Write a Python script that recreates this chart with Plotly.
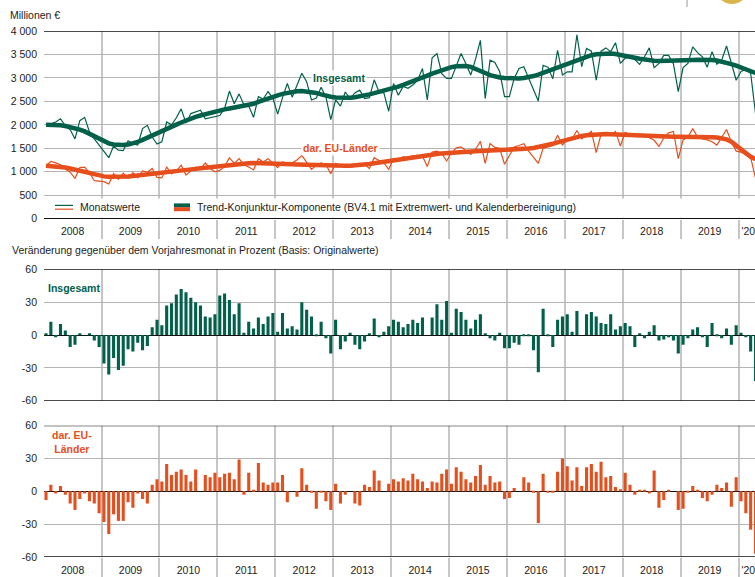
import plotly.graph_objects as go

# ---------------- data (monthly, Jan 2008 .. Apr 2020) ----------------
year_labels = ["2008", "2009", "2010", "2011", "2012", "2013", "2014",
               "2015", "2016", "2017", "2018", "2019", "'20"]

gesamt = [
    2000, 2020, 2060, 2130, 1980, 1900, 1700, 2090, 2160, 1850, 1700, 1570,
    1430, 1300, 1550, 1460, 1450, 1660, 1600, 1570, 1920, 1990, 1740, 1590,
    1640, 2060, 2000, 2150, 2340, 2040, 2240, 2270, 2310, 2130, 2150, 2180,
    2200, 2350, 2720, 2450, 2660, 2430, 2400, 2160, 2600, 2550, 2710, 2570,
    2230, 2580, 2880, 2590, 2850, 3100, 2920, 2530, 2570, 2800, 2590, 2110,
    2530, 2400, 2700, 2560, 2680, 2740, 2560, 2580, 2960, 2700, 2680, 2290,
    2880, 2630, 2820, 2780, 2850, 2950, 3200, 2530, 3430, 3520, 3090, 2990,
    2990, 3250, 3520, 3300, 3060, 3400, 3800, 2560, 3380, 3330, 3130, 2600,
    2600, 2990, 3200, 3240, 2990, 2750, 2510, 3270, 3230, 2980, 3590, 3060,
    3130, 3130, 3920, 3240, 3630, 3570, 2950, 3570, 3640, 3560, 3750, 3310,
    3420, 3440, 3390, 3290, 3450, 3640, 3220, 3310, 3480, 3480, 3300, 2710,
    3220, 3310, 3660, 3540, 3450, 3230, 3560, 3290, 3380, 3680, 3340, 2950,
    3140, 3180, 3100, 2250,
]

eu = [
    1130, 1220, 1190, 1150, 1060, 990, 860, 1090, 1100, 980, 810, 800,
    790, 740, 960, 840, 970, 860, 980, 870, 1020, 990, 1070, 880,
    870, 1100, 960, 1010, 1140, 930, 1020, 1100, 1060, 1190, 1070, 1000,
    1030, 1110, 1300, 1180, 1280, 1150, 1100, 1040, 1280, 1210, 1280, 1180,
    1090, 1210, 1180, 1190, 1250, 1350, 1200, 1050, 1140, 1190, 1150, 960,
    1180, 1130, 1150, 1140, 1120, 1180, 1160, 1070, 1300, 1240, 1190, 1050,
    1280, 1270, 1320, 1300, 1340, 1350, 1330, 1110, 1420, 1440, 1390, 1230,
    1400, 1510, 1530, 1450, 1370, 1480, 1650, 1180, 1600, 1520, 1500, 1160,
    1350, 1530, 1560, 1600, 1440, 1300, 1180, 1500, 1530, 1560, 1780, 1570,
    1680, 1700, 1880, 1700, 1780, 1860, 1410, 1800, 1780, 1780, 1860, 1550,
    1840, 1790, 1810, 1760, 1780, 1720, 1670, 1540, 1720, 1830, 1860, 1280,
    1680, 1740, 1920, 1740, 1700, 1680, 1640, 1570, 1740, 1900, 1640, 1440,
    1420, 1360, 1300, 870,
]

gesamt_trend = [
    2000, 2000, 1995, 1990, 1975, 1955, 1930, 1900, 1860, 1810, 1750, 1695,
    1645, 1605, 1580, 1570, 1570, 1580, 1600, 1635, 1680, 1730, 1780, 1830,
    1880, 1925, 1965, 2005, 2050, 2095, 2135, 2170, 2200, 2230, 2255, 2280,
    2305, 2330, 2350, 2370, 2385, 2400, 2420, 2450, 2490, 2530, 2565, 2600,
    2630, 2660, 2685, 2705, 2715, 2720, 2712, 2700, 2680, 2650, 2620, 2600,
    2585, 2578, 2575, 2580, 2590, 2605, 2625, 2650, 2675, 2700, 2725, 2750,
    2780, 2815, 2850, 2885, 2925, 2965, 3005, 3050, 3090, 3130, 3165, 3200,
    3230, 3250, 3260, 3255, 3235, 3200, 3155, 3105, 3060, 3030, 3010, 2998,
    2990, 2988, 2990, 3000, 3015, 3040, 3070, 3110, 3150, 3190, 3230, 3270,
    3310, 3350, 3390, 3425, 3460, 3485, 3505, 3515, 3520, 3518, 3510, 3495,
    3475, 3450, 3430, 3410, 3390, 3375, 3365, 3360, 3360, 3360, 3362, 3366,
    3370, 3375, 3380, 3385, 3388, 3388, 3382, 3370, 3350, 3325, 3295, 3260,
    3225, 3185, 3145, 3105,
]

eu_trend = [
    1130, 1125, 1115, 1105, 1090, 1070, 1045, 1015, 985, 958, 935, 915,
    902, 895, 892, 892, 895, 900, 908, 918, 928, 940, 952, 965,
    978, 990, 1002, 1014, 1026, 1038, 1050, 1062, 1075, 1088, 1100, 1112,
    1125, 1138, 1150, 1160, 1170, 1178, 1183, 1185, 1185, 1183, 1180, 1177,
    1174, 1170, 1166, 1162, 1157, 1152, 1147, 1142, 1137, 1133, 1130, 1128,
    1127, 1127, 1128, 1130, 1135, 1142, 1152, 1165, 1180, 1197, 1213, 1228,
    1242, 1255, 1267, 1280, 1295, 1312, 1330, 1348, 1365, 1380, 1392, 1402,
    1410, 1417, 1423, 1428, 1432, 1436, 1440, 1443, 1446, 1449, 1452, 1455,
    1460, 1466, 1474, 1484, 1495, 1508, 1524, 1544, 1568, 1596, 1628, 1660,
    1690, 1718, 1743, 1764, 1780, 1792, 1800, 1804, 1805, 1802, 1797, 1790,
    1782, 1775, 1768, 1762, 1757, 1753, 1750, 1748, 1747, 1747, 1748, 1749,
    1750, 1750, 1749, 1747, 1744, 1740, 1735, 1728, 1715, 1690, 1640, 1560,
    1450, 1380, 1320, 1270,
]

gesamt_yoy = [
    1, 12, -2, 10, 4, -11, -9, 1, 0, 1, -5, -11,
    -26, -36, -21, -32, -28, -13, -15, -7, -14, -10, 7, 14,
    9, 27, 29, 37, 42, 39, 34, 30, 27, 17, 16, 19,
    36, 38, 32, 19, 29, 2, 12, 6, 16, 10, 17, 20,
    3, 20, 6, 8, 5, 30, 23, 17, -1, 12, -3, -17,
    14, -13, -6, 2, -9, -13, -6, 1, 15, -2, 3, 8,
    14, 12, 7, 10, 14, 11, 16, 0, 16, 28, 14, 31,
    2, 24, 21, 14, 6, 14, 19, 1, -3, -5, 2, -12,
    -12, -7, -9, -1, -1, -14, -34, 24, -1, -11, 14, 17,
    19, 3, 22, 0, 19, 21, 17, 11, 10, 19, 5, 8,
    11, 8, -11, 1, -3, 3, 9, -5, -4, -2, -5, -17,
    -9, -3, 5, 7, -2, -11, 11, -1, -3, 6, -9, 9,
    2, -2, -15, -42,
]

eu_yoy = [
    -8, 6, -2, 5, -3, -11, -17, -7, -2, -9, -11, -20,
    -28, -39, -21, -27, -27, -10, -15, -2, -7, -11, 6, 11,
    9, 25, 15, 18, 20, 15, 9, 20, 0, 15, 13, 17,
    13, 16, 17, 11, 29, -3, 17, 1, 26, 8, 6, 8,
    8, 15, -10, 0, -5, 21, 6, -1, -16, -1, -9, -17,
    7, -11, -3, 0, -11, -13, 6, 4, 19, 10, 0, 7,
    11, 9, 12, 10, 16, 11, 9, 3, 9, 8, 16, 20,
    7, 22, 18, 11, 8, 14, 24, 6, 14, 8, 9, -7,
    -6, 3, 0, 13, 8, -1, -29, 16, -1, -1, 18, 30,
    23, 10, 22, 5, 22, 25, 18, 27, 13, 14, 4, 2,
    17, 6, -3, 1, 1, -2, 19, -15, -8, 1, 0, -17,
    -16, -1, 5, 1, -6, -9, -3, 6, 3, 8, -14, 13,
    -9, -20, -35, -57,
]

top_ticks = [0, 500, 1000, 1500, 2000, 2500, 3000, 3500, 4000]
top_ticktext = ["0", "500", "1 000", "1 500", "2 000", "2 500", "3 000", "3 500", "4 000"]
pct_ticks = [-60, -30, 0, 30, 60]

# ---------------- styling ----------------
GREEN = "#00604a"
ORANGE = "#e64e1c"
GRID_H = "#b4b4b4"
GRID_V = "#c6c6c6"
TXT = "#222222"
FONT = "Liberation Sans, Arial, sans-serif"

W, H = 755, 577
ML, MR, MT, MB = 44, 0, 31, 20
PW, PH = W - ML - MR, H - MT - MB


def fx(px):
    return (px - ML) / PW


def fy(py):
    return (H - MB - py) / PH


n = len(gesamt)
idx = list(range(n))
boundaries = [12 * k - 0.5 for k in range(14)]
centers = [12 * k + 5.5 for k in range(12)] + [145.5]
xrange_ = [-0.42, 146.9]

fig = go.Figure()

fig.add_trace(go.Scatter(x=idx, y=gesamt, mode="lines", line=dict(color=GREEN, width=1.2),
                         xaxis="x", yaxis="y", showlegend=False))
fig.add_trace(go.Scatter(x=idx, y=eu, mode="lines", line=dict(color=ORANGE, width=1.2),
                         xaxis="x", yaxis="y", showlegend=False))
fig.add_trace(go.Scatter(x=idx, y=gesamt_trend, mode="lines", line=dict(color=GREEN, width=4.5),
                         xaxis="x", yaxis="y", showlegend=False))
fig.add_trace(go.Scatter(x=idx, y=eu_trend, mode="lines", line=dict(color=ORANGE, width=4.5),
                         xaxis="x", yaxis="y", showlegend=False))

fig.add_trace(go.Bar(x=idx, y=gesamt_yoy, marker=dict(color=GREEN, line=dict(width=0)),
                     xaxis="x2", yaxis="y2", showlegend=False))
fig.add_trace(go.Bar(x=idx, y=eu_yoy, marker=dict(color=ORANGE, line=dict(width=0)),
                     xaxis="x3", yaxis="y3", showlegend=False))


def xaxis_def(anchor, labels):
    d = dict(
        range=xrange_, anchor=anchor, domain=[0, 1],
        tickmode="array", tickvals=centers, ticktext=year_labels,
        showticklabels=labels, ticks="", showgrid=False, zeroline=False, showline=False,
        ticklabelstandoff=5, ticklabeloverflow="allow",
        tickfont=dict(size=10.5, color=TXT, family=FONT),
        minor=dict(tickmode="array", tickvals=boundaries,
                   ticks="outside" if labels else "", ticklen=19, tickwidth=1.5,
                   tickcolor=GRID_V, showgrid=True, gridcolor=GRID_V, gridwidth=1.5),
        fixedrange=True,
    )
    return d


def yaxis_def(anchor, dom, rng, tv, tt):
    return dict(
        anchor=anchor, domain=dom, range=rng, tickmode="array", tickvals=tv, ticktext=tt,
        showgrid=True, gridcolor=GRID_H, gridwidth=1.2, zeroline=True, zerolinecolor="#111111",
        zerolinewidth=1.3, showline=False, ticks="", ticklabelstandoff=6,
        tickfont=dict(size=10.5, color=TXT, family=FONT), fixedrange=True,
    )


top_dom = [fy(218.7), 1.0]
mid_dom = [fy(400.7), fy(269.3)]
bot_dom = [0.0, fy(425.7)]

fig.update_layout(
    width=W, height=H, margin=dict(l=ML, r=MR, t=MT, b=MB),
    paper_bgcolor="white", plot_bgcolor="white",
    font=dict(family=FONT, size=10.5, color=TXT),
    bargap=0.36, showlegend=False, hovermode=False,
    xaxis=xaxis_def("y", True),
    xaxis2=xaxis_def("y2", False),
    xaxis3=xaxis_def("y3", True),
    yaxis=yaxis_def("x", top_dom, [0, 4000], top_ticks, top_ticktext),
    yaxis2=yaxis_def("x2", mid_dom, [-60, 60], pct_ticks, [str(v) for v in pct_ticks]),
    yaxis3=yaxis_def("x3", bot_dom, [-60, 60], pct_ticks, [str(v) for v in pct_ticks]),
)

shapes = []
# legend band: white background from just below the 500 line down to the axis
shapes.append(dict(type="rect", xref="paper", yref="paper", x0=0, x1=1,
                   y0=fy(217.8), y1=fy(198.5), fillcolor="white", line=dict(width=0), layer="above"))
# black frame lines at top of each panel and bottom of bar panels, plus top zero line
for yref, val in [("y", 4000), ("y", 0), ("y2", 60), ("y2", -60), ("y3", 60), ("y3", -60)]:
    shapes.append(dict(type="line", xref="paper", yref=yref, x0=0, x1=1, y0=val, y1=val,
                       line=dict(color="#111111", width=1.3), layer="above"))

for (xa, xb, w) in [(55, 73, 1.2), (174, 190, 4)]:
    shapes.append(dict(type="line", xref="paper", yref="paper", x0=fx(xa), x1=fx(xb),
                       y0=fy(205.4), y1=fy(205.4), line=dict(color=GREEN, width=w), layer="above"))
    shapes.append(dict(type="line", xref="paper", yref="paper", x0=fx(xa), x1=fx(xb),
                       y0=fy(209.2), y1=fy(209.2), line=dict(color=ORANGE, width=w), layer="above"))

# remnant of logo in the top right corner
shapes.append(dict(type="line", xref="paper", yref="paper", x0=fx(687), x1=fx(687),
                   y0=fy(0), y1=fy(7), line=dict(color="#999999", width=1)))
shapes.append(dict(type="circle", xref="paper", yref="paper", x0=fx(716), x1=fx(748),
                   y0=fy(4), y1=fy(-28), fillcolor="#d9b44a", line=dict(width=0)))
fig.update_layout(shapes=shapes)

ann = []
ann.append(dict(text="Millionen €", xref="paper", yref="paper", x=fx(8), y=fy(15),
                xanchor="left", yanchor="middle", showarrow=False, font=dict(size=10.5, color=TXT)))
ann.append(dict(text="Veränderung gegenüber dem Vorjahresmonat in Prozent (Basis: Originalwerte)",
                xref="paper", yref="paper", x=fx(10), y=fy(250), xanchor="left", yanchor="middle",
                showarrow=False, font=dict(size=10.5, color=TXT)))
ann.append(dict(text="<b>Insgesamt</b>", xref="paper", yref="paper", x=fx(339), y=fy(77.7),
                xanchor="center", yanchor="middle", showarrow=False, bgcolor="white",
                borderpad=1, font=dict(size=10.5, color=GREEN)))
ann.append(dict(text="<b>dar. EU-Länder</b>", xref="paper", yref="paper", x=fx(340), y=fy(148),
                xanchor="center", yanchor="middle", showarrow=False, bgcolor="white",
                borderpad=1, font=dict(size=10.5, color=ORANGE)))
ann.append(dict(text="Monatswerte", xref="paper", yref="paper", x=fx(78), y=fy(207.3),
                xanchor="left", yanchor="middle", showarrow=False, font=dict(size=10.5, color=TXT)))
ann.append(dict(text="Trend-Konjunktur-Komponente (BV4.1 mit Extremwert- und Kalenderbereinigung)",
                xref="paper", yref="paper", x=fx(195), y=fy(207.3), xanchor="left", yanchor="middle",
                showarrow=False, font=dict(size=10.5, color=TXT)))
ann.append(dict(text="<b>Insgesamt</b>", xref="paper", yref="paper", x=fx(46), y=fy(288),
                xanchor="left", yanchor="middle", showarrow=False, font=dict(size=10.5, color=GREEN)))
ann.append(dict(text="<b>dar. EU-<br>Länder</b>", xref="paper", yref="paper", x=fx(72), y=fy(442),
                xanchor="center", yanchor="middle", showarrow=False, align="center",
                font=dict(size=10.5, color=ORANGE)))
fig.update_layout(annotations=ann)

fig.write_html(
    "out.html",
    config={"displayModeBar": False},
    post_script="document.body.style.margin='0';document.body.style.overflow='hidden';",
)
